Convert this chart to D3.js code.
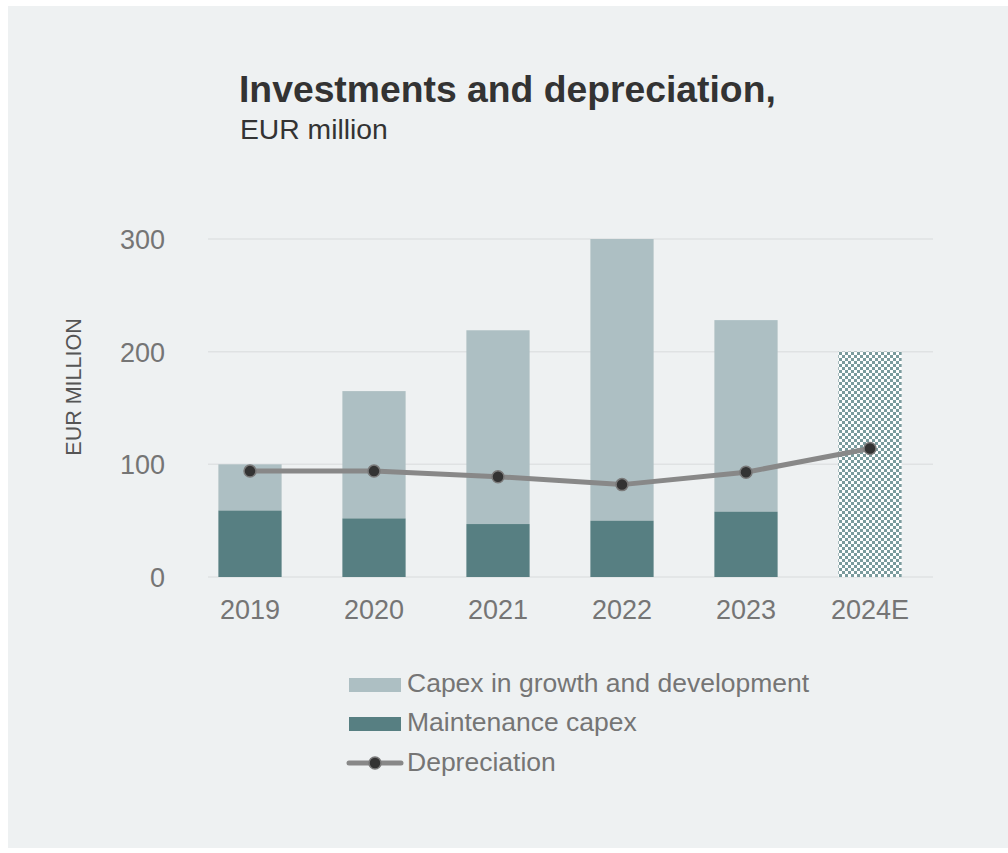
<!DOCTYPE html>
<html><head><meta charset="utf-8">
<script src="https://cdn.jsdelivr.net/npm/d3@7"></script>
<style>body{margin:0;background:#fff;}svg{display:block;font-family:"Liberation Sans",Arial,sans-serif;}</style>
</head><body>
<svg id="chart" width="1008" height="853"></svg>
<script>
const categories = ["2019","2020","2021","2022","2023","2024E"];
const maintenance = [59, 52, 47, 50, 58, null];
const growth = [41, 113, 172, 250, 170, null];
const estimateTotal = [null, null, null, null, null, 200];
const depreciation = [94, 94, 89, 82, 93, 114];
const yTicks = [0, 100, 200, 300];

const svg = d3.select("#chart");
svg.append("rect").attr("x",8).attr("y",6).attr("width",1000).attr("height",842).attr("fill","#eef1f2");

const defs = svg.append("defs");
const pat = defs.append("pattern").attr("id","checker").attr("patternUnits","userSpaceOnUse")
  .attr("width",6).attr("height",6).attr("x",839).attr("y",352);
pat.append("rect").attr("width",6).attr("height",6).attr("fill","#ffffff");
pat.append("rect").attr("width",3).attr("height",3).attr("fill","#7a9b9d").attr("shape-rendering","crispEdges");
pat.append("rect").attr("x",3).attr("y",3).attr("width",3).attr("height",3).attr("fill","#7a9b9d").attr("shape-rendering","crispEdges");

const x = d3.scaleBand().domain(categories).range([188, 932]).paddingInner(0.49).paddingOuter(0.245);
const y = d3.scaleLinear().domain([0, 300]).range([577, 239]);

// gridlines
svg.append("g").selectAll("line").data(yTicks).join("line")
  .attr("x1",208).attr("x2",933).attr("y1",d=>y(d)).attr("y2",d=>y(d))
  .attr("stroke","#dfe2e3").attr("stroke-width",1.5);

// y tick labels
svg.append("g").selectAll("text").data(yTicks).join("text")
  .attr("x",165).attr("y",d=>y(d)+10).attr("text-anchor","end")
  .attr("font-size",27).attr("fill","#757575").text(d=>d);

// y axis title
svg.append("text").attr("transform","translate(81,387) rotate(-90)").attr("text-anchor","middle")
  .attr("font-size",21.5).attr("fill","#555555").text("EUR MILLION");

// bars
const bars = svg.append("g");
categories.forEach((c,i)=>{
  if (maintenance[i] != null) {
    bars.append("rect").attr("x",x(c)).attr("width",x.bandwidth())
      .attr("y",y(maintenance[i]+growth[i])).attr("height",y(maintenance[i])-y(maintenance[i]+growth[i]))
      .attr("fill","#adbfc3");
    bars.append("rect").attr("x",x(c)).attr("width",x.bandwidth())
      .attr("y",y(maintenance[i])).attr("height",y(0)-y(maintenance[i]))
      .attr("fill","#577f82");
  }
  if (estimateTotal[i] != null) {
    bars.append("rect").attr("x",x(c)).attr("width",x.bandwidth())
      .attr("y",y(estimateTotal[i])).attr("height",y(0)-y(estimateTotal[i]))
      .attr("fill","url(#checker)");
  }
});

// x labels
svg.append("g").selectAll("text").data(categories).join("text")
  .attr("x",d=>x(d)+x.bandwidth()/2).attr("y",619).attr("text-anchor","middle")
  .attr("font-size",27).attr("fill","#757575").text(d=>d);

// depreciation line
const line = d3.line().x((d,i)=>x(categories[i])+x.bandwidth()/2).y(d=>y(d));
svg.append("path").datum(depreciation).attr("d",line).attr("fill","none")
  .attr("stroke","#888888").attr("stroke-width",5).attr("stroke-linejoin","round");
svg.append("g").selectAll("circle").data(depreciation).join("circle")
  .attr("cx",(d,i)=>x(categories[i])+x.bandwidth()/2).attr("cy",d=>y(d)).attr("r",6)
  .attr("fill","#333333").attr("stroke","#7a7a7a").attr("stroke-width",1.5);

// title
svg.append("text").attr("x",239).attr("y",102).attr("font-size",37.3).attr("font-weight","bold")
  .attr("fill","#333333").text("Investments and depreciation,");
svg.append("text").attr("x",240).attr("y",139).attr("font-size",28.3)
  .attr("fill","#333333").text("EUR million");

// legend
const lg = svg.append("g");
lg.append("rect").attr("x",349).attr("y",678).attr("width",52).attr("height",14).attr("fill","#adbfc3");
lg.append("text").attr("x",407).attr("y",692).attr("font-size",26.5).attr("fill","#757575").text("Capex in growth and development");
lg.append("rect").attr("x",349).attr("y",717).attr("width",52).attr("height",14).attr("fill","#577f82");
lg.append("text").attr("x",407).attr("y",731).attr("font-size",26.5).attr("fill","#757575").text("Maintenance capex");
lg.append("line").attr("x1",349).attr("x2",401).attr("y1",763).attr("y2",763).attr("stroke","#888888").attr("stroke-width",5).attr("stroke-linecap","round");
lg.append("circle").attr("cx",375).attr("cy",763).attr("r",6).attr("fill","#333333").attr("stroke","#7a7a7a").attr("stroke-width",1.5);
lg.append("text").attr("x",407).attr("y",771).attr("font-size",26.5).attr("fill","#757575").text("Depreciation");
</script>
</body></html>
